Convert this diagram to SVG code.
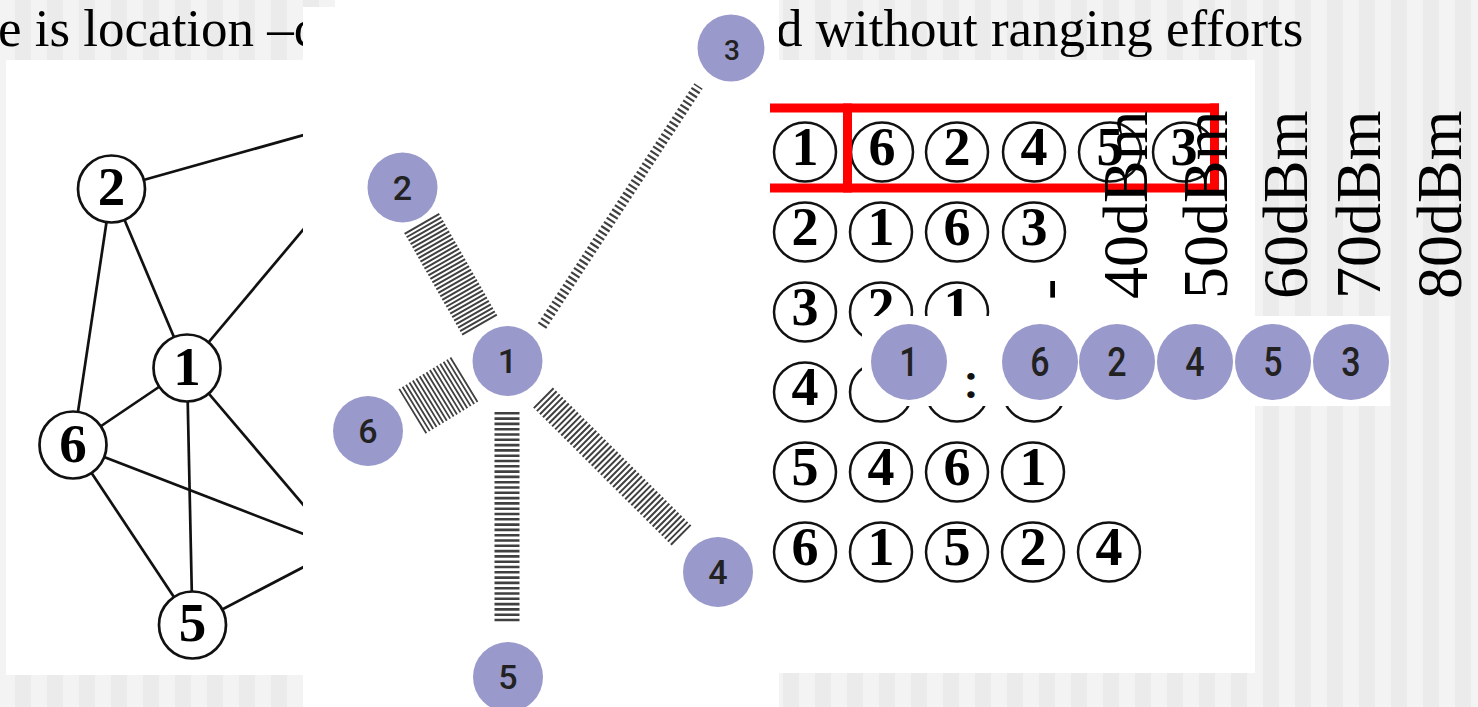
<svg xmlns="http://www.w3.org/2000/svg" width="1478" height="707" viewBox="0 0 1478 707">
  <defs>
    <pattern id="stripes" patternUnits="userSpaceOnUse" x="-1" y="0" width="32" height="10">
      <rect width="16" height="10" fill="#f3f3f3"/>
      <rect x="16" width="16" height="10" fill="#ebebeb"/>
    </pattern>
    <style>
      .panel { fill: #ffffff; }
      .title { font-family: "Liberation Serif", serif; font-size: 53px; fill: #000; }
      .ge { stroke: #111; stroke-width: 2.7; fill: none; }
      .gn { fill: #fff; stroke: #111; stroke-width: 2.7; }
      .gd { font-family: "Liberation Serif", serif; font-weight: bold; font-size: 55px; fill: #000; text-anchor: middle; }
      .tc { fill: #fff; stroke: #111; stroke-width: 2.5; }
      .td { font-family: "Liberation Serif", serif; font-weight: bold; font-size: 54px; fill: #000; text-anchor: middle; }
      .pc { fill: #9999cc; }
      .pt { font-family: Roboto, "Liberation Sans", sans-serif; font-weight: 500; fill: #222; text-anchor: middle; }
      .hatch { fill: none; stroke: #404040; }
      .red { fill: #ff0000; }
      .db { font-family: "Liberation Serif", serif; font-size: 64px; fill: #000; }
    </style>
  </defs>

  <!-- striped background -->
  <rect x="0" y="0" width="1478" height="707" fill="url(#stripes)"/>

  <!-- left panel -->
  <rect class="panel" x="6" y="60" width="297" height="615"/>

  <g id="left-connectors">
    <line class="ge" x1="111.5" y1="189" x2="407" y2="106"/>
    <line class="ge" x1="111.5" y1="189" x2="187" y2="368"/>
    <line class="ge" x1="111.5" y1="189" x2="73" y2="445"/>
    <line class="ge" x1="187" y1="368" x2="407" y2="106"/>
    <line class="ge" x1="187" y1="368" x2="73" y2="445"/>
    <line class="ge" x1="187" y1="368" x2="192.5" y2="625"/>
    <line class="ge" x1="187" y1="368" x2="340" y2="548"/>
    <line class="ge" x1="73" y1="445" x2="340" y2="548"/>
    <line class="ge" x1="73" y1="445" x2="192.5" y2="625"/>
    <line class="ge" x1="192.5" y1="625" x2="340" y2="548"/>
  </g>
  <g id="lnode-2"><circle class="gn" cx="111.5" cy="189" r="33.5"/><text class="gd" x="111.5" y="205">2</text></g>
  <g id="lnode-1"><circle class="gn" cx="187" cy="368" r="33.5"/><text class="gd" x="187" y="385">1</text></g>
  <g id="lnode-6"><circle class="gn" cx="73" cy="445" r="33.5"/><text class="gd" x="73" y="462">6</text></g>
  <g id="lnode-5"><circle class="gn" cx="192.5" cy="625" r="33.5"/><text class="gd" x="192.5" y="641">5</text></g>

  <!-- title texts (partially covered) -->
  <text class="title" x="-2" y="46">e is location –c</text>
  <text class="title" x="776" y="46">d without ranging efforts</text>

  <!-- middle panel -->
  <path class="panel" d="M303,7 H335 V0 H779 V707 H303 Z"/>

  <g id="star-connectors">
    <line class="hatch" x1="421.5" y1="223" x2="480.5" y2="326.5" stroke-width="40" stroke-dasharray="2 2"/>
    <line class="hatch" x1="542" y1="326" x2="698.5" y2="86" stroke-width="10" stroke-dasharray="2.2 2.8"/>
    <line class="hatch" x1="412" y1="411.5" x2="466" y2="378.5" stroke-width="52" stroke-dasharray="1.8 2.2"/>
    <line class="hatch" x1="507" y1="412" x2="507" y2="623" stroke-width="25" stroke-dasharray="2.6 2.7"/>
    <line class="hatch" x1="543" y1="397.5" x2="682" y2="536" stroke-width="28" stroke-dasharray="2 2.3"/>
  </g>
  <g id="snode-1"><circle class="pc" cx="507.5" cy="361" r="35"/><text class="pt" x="507.5" y="373" font-size="34">1</text></g>
  <g id="snode-2"><circle class="pc" cx="402.5" cy="187.5" r="35"/><text class="pt" x="402.5" y="199.5" font-size="34">2</text></g>
  <g id="snode-3"><circle class="pc" cx="731" cy="48" r="33.5"/><text class="pt" x="732" y="59.5" font-size="28">3</text></g>
  <g id="snode-6"><circle class="pc" cx="368" cy="431" r="35"/><text class="pt" x="368" y="443" font-size="34">6</text></g>
  <g id="snode-4"><circle class="pc" cx="718" cy="572" r="35"/><text class="pt" x="718" y="584" font-size="34">4</text></g>
  <g id="snode-5"><circle class="pc" cx="508" cy="677" r="35"/><text class="pt" x="508" y="689" font-size="34">5</text></g>

  <!-- right panel -->
  <rect class="panel" x="770" y="60" width="485" height="613"/>

  <g id="table">
    <g id="row-1">
      <ellipse class="tc" cx="805" cy="152" rx="31" ry="29.5"/><text class="td" x="805" y="165">1</text>
      <ellipse class="tc" cx="882" cy="152" rx="31" ry="29.5"/><text class="td" x="882" y="165">6</text>
      <ellipse class="tc" cx="957" cy="152" rx="31" ry="29.5"/><text class="td" x="957" y="165">2</text>
      <ellipse class="tc" cx="1034" cy="152" rx="31" ry="29.5"/><text class="td" x="1034" y="165">4</text>
      <ellipse class="tc" cx="1110" cy="152" rx="31" ry="29.5"/><text class="td" x="1110" y="165">5</text>
      <ellipse class="tc" cx="1184" cy="152" rx="31" ry="29.5"/><text class="td" x="1184" y="165">3</text>
    </g>
    <g id="row-2">
      <ellipse class="tc" cx="805" cy="232" rx="31" ry="29.5"/><text class="td" x="805" y="245">2</text>
      <ellipse class="tc" cx="881" cy="232" rx="31" ry="29.5"/><text class="td" x="881" y="245">1</text>
      <ellipse class="tc" cx="957" cy="232" rx="31" ry="29.5"/><text class="td" x="957" y="245">6</text>
      <ellipse class="tc" cx="1034" cy="232" rx="31" ry="29.5"/><text class="td" x="1034" y="245">3</text>
    </g>
    <g id="row-3">
      <ellipse class="tc" cx="805" cy="312" rx="31" ry="29.5"/><text class="td" x="805" y="325">3</text>
      <ellipse class="tc" cx="881" cy="312" rx="31" ry="29.5"/><text class="td" x="881" y="325">2</text>
      <ellipse class="tc" cx="957" cy="312" rx="31" ry="29.5"/><text class="td" x="957" y="325">1</text>
    </g>
    <g id="row-4">
      <ellipse class="tc" cx="805" cy="392" rx="31" ry="29.5"/><text class="td" x="805" y="405">4</text>
      <ellipse class="tc" cx="881" cy="392" rx="31" ry="29.5"/>
      <ellipse class="tc" cx="957" cy="392" rx="31" ry="29.5"/>
      <ellipse class="tc" cx="1034" cy="392" rx="31" ry="29.5"/>
    </g>
    <g id="row-5">
      <ellipse class="tc" cx="805" cy="472" rx="31" ry="29.5"/><text class="td" x="805" y="485">5</text>
      <ellipse class="tc" cx="881" cy="472" rx="31" ry="29.5"/><text class="td" x="881" y="485">4</text>
      <ellipse class="tc" cx="957" cy="472" rx="31" ry="29.5"/><text class="td" x="957" y="485">6</text>
      <ellipse class="tc" cx="1033" cy="472" rx="31" ry="29.5"/><text class="td" x="1033" y="485">1</text>
    </g>
    <g id="row-6">
      <ellipse class="tc" cx="805" cy="552" rx="31" ry="29.5"/><text class="td" x="805" y="565">6</text>
      <ellipse class="tc" cx="881" cy="552" rx="31" ry="29.5"/><text class="td" x="881" y="565">1</text>
      <ellipse class="tc" cx="957" cy="552" rx="31" ry="29.5"/><text class="td" x="957" y="565">5</text>
      <ellipse class="tc" cx="1033" cy="552" rx="31" ry="29.5"/><text class="td" x="1033" y="565">2</text>
      <ellipse class="tc" cx="1109" cy="552" rx="31" ry="29.5"/><text class="td" x="1109" y="565">4</text>
    </g>
  </g>

  <g id="highlight">
    <rect class="red" x="770" y="103.5" width="449" height="9"/>
    <rect class="red" x="770" y="183.5" width="449" height="9"/>
    <rect class="red" x="843" y="103.5" width="9" height="89"/>
    <rect class="red" x="1210" y="103.5" width="9" height="89"/>
  </g>

  <g id="labels">
    <text class="db" transform="translate(1068,300) rotate(-90)">-</text>
    <text class="db" transform="translate(1147,299) rotate(-90)">40dBm</text>
    <text class="db" transform="translate(1227,299) rotate(-90)">50dBm</text>
    <text class="db" transform="translate(1307,299) rotate(-90)">60dBm</text>
    <text class="db" transform="translate(1380,299) rotate(-90)">70dBm</text>
    <text class="db" transform="translate(1461,299) rotate(-90)">80dBm</text>
  </g>

  <g id="sequence">
    <rect class="panel" x="862" y="316" width="528" height="90"/>
    <g id="seq-1"><circle class="pc" cx="909" cy="362" r="38"/><text class="pt" transform="translate(909,376) scale(0.85,1)" font-size="40">1</text></g>
    <text x="971" y="398" font-family="Roboto, 'Liberation Sans', sans-serif" font-weight="bold" font-size="46" fill="#111" text-anchor="middle">:</text>
    <g id="seq-6"><circle class="pc" cx="1040" cy="362" r="38"/><text class="pt" transform="translate(1040,376) scale(0.85,1)" font-size="40">6</text></g>
    <g id="seq-2"><circle class="pc" cx="1117" cy="362" r="38"/><text class="pt" transform="translate(1117,376) scale(0.85,1)" font-size="40">2</text></g>
    <g id="seq-4"><circle class="pc" cx="1195" cy="362" r="38"/><text class="pt" transform="translate(1195,376) scale(0.85,1)" font-size="40">4</text></g>
    <g id="seq-5"><circle class="pc" cx="1273" cy="362" r="38"/><text class="pt" transform="translate(1273,376) scale(0.85,1)" font-size="40">5</text></g>
    <g id="seq-3"><circle class="pc" cx="1351" cy="362" r="38"/><text class="pt" transform="translate(1351,376) scale(0.85,1)" font-size="40">3</text></g>
  </g>
</svg>
